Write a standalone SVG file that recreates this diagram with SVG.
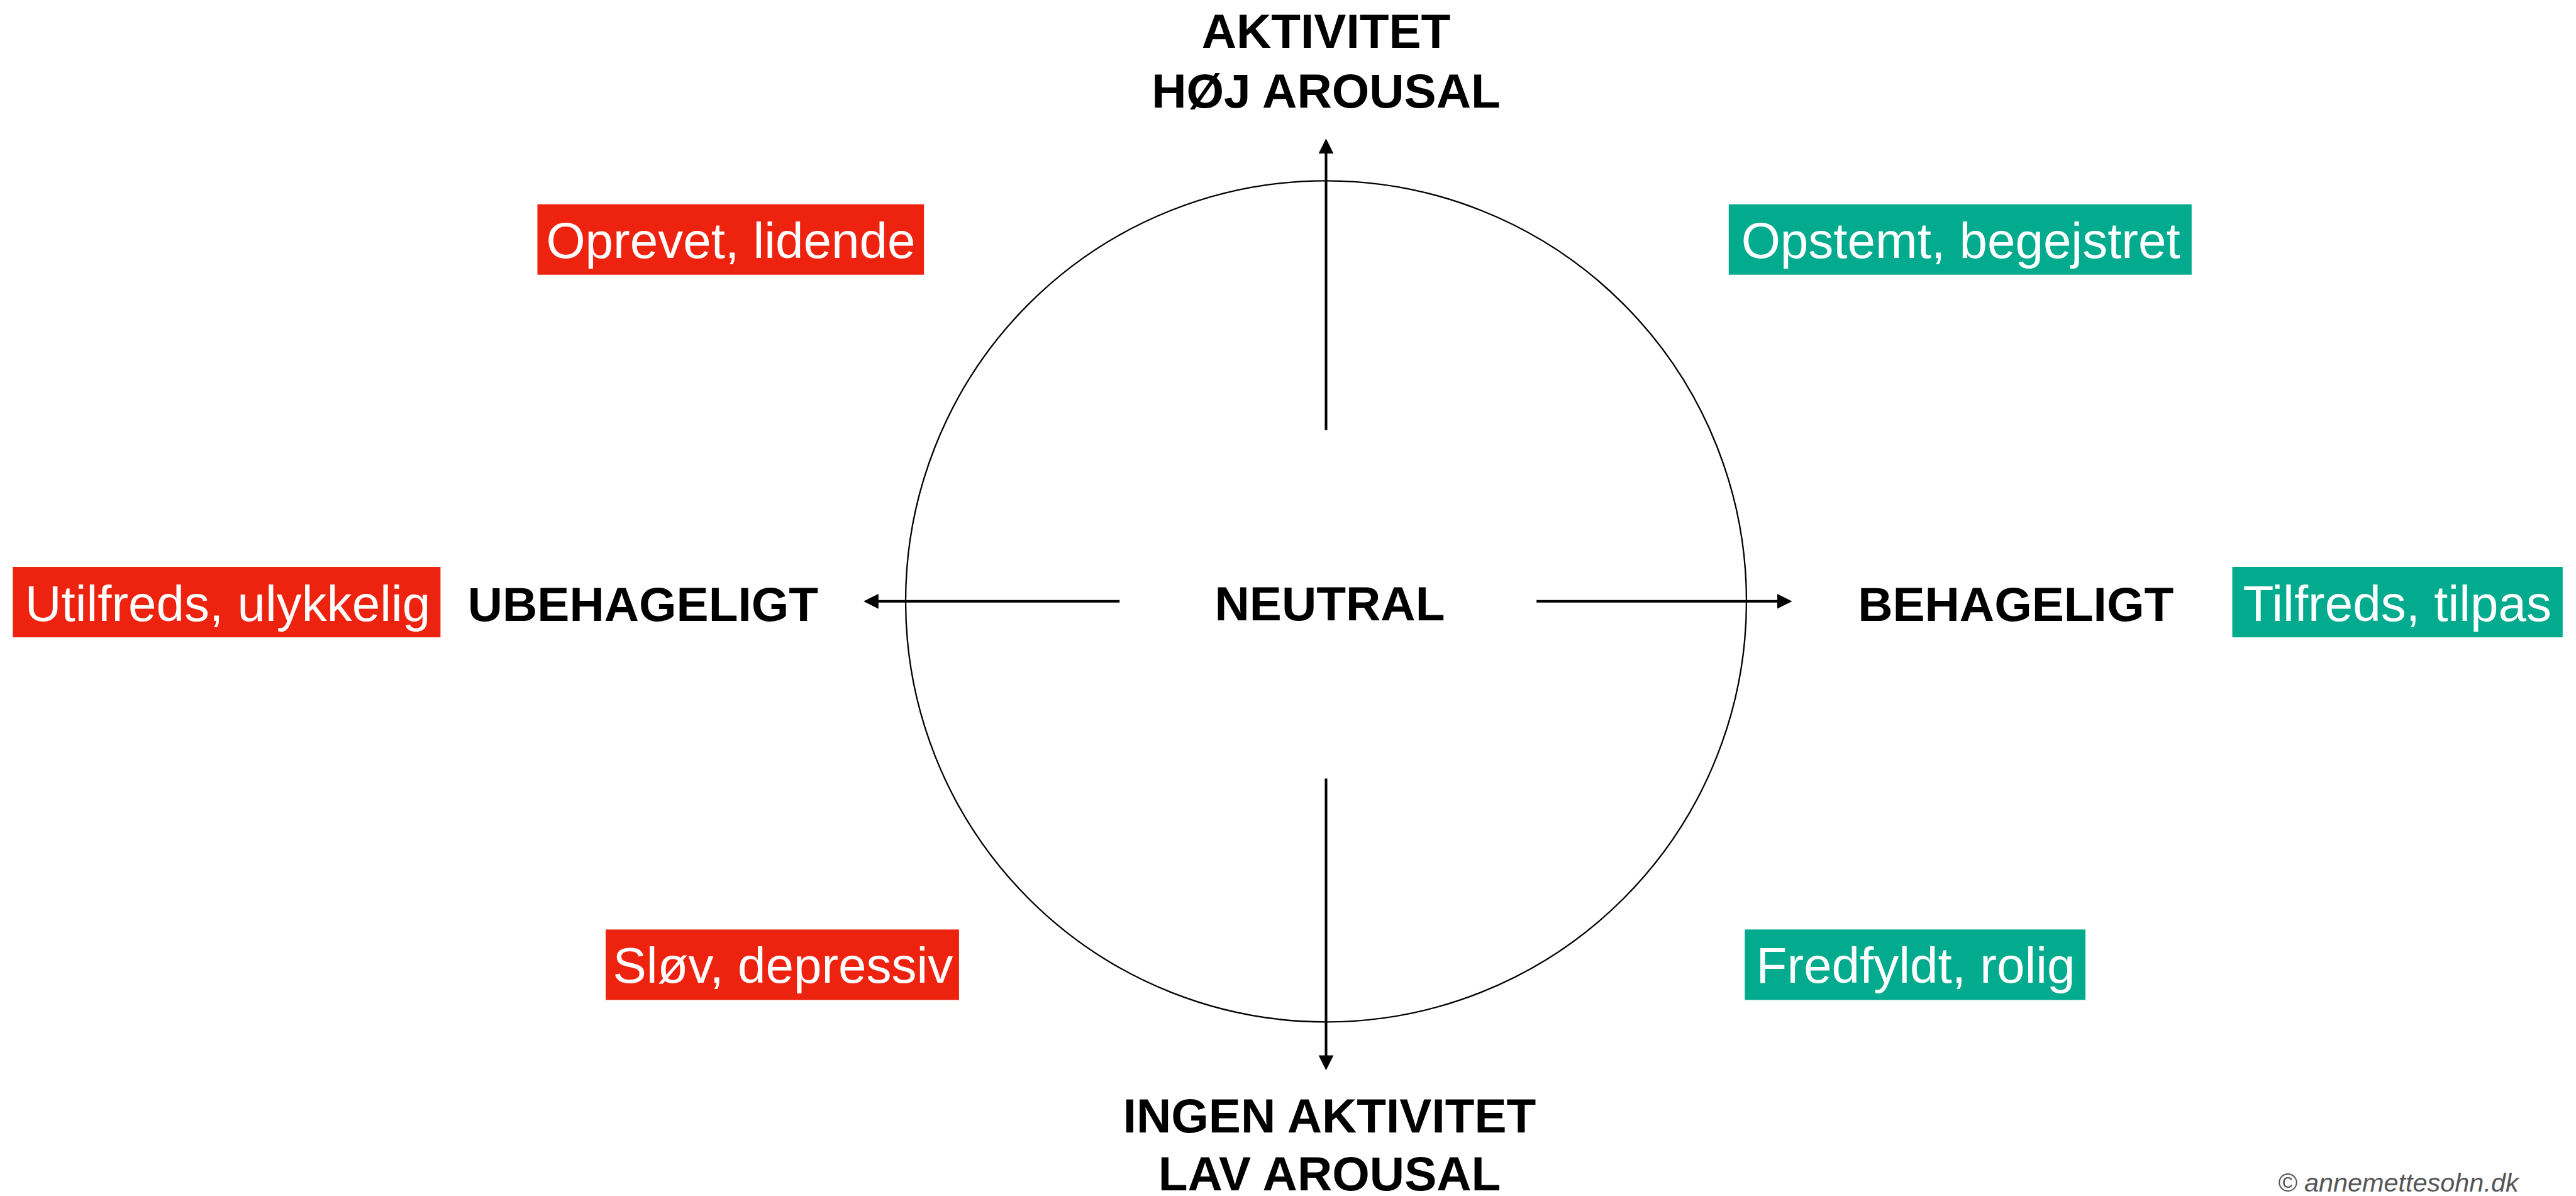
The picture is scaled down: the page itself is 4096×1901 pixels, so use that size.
<svg xmlns="http://www.w3.org/2000/svg" width="4096" height="1901" viewBox="0 0 4096 1901">
  <style>
    .axis { font-family: "Liberation Sans", Arial, sans-serif; font-weight: bold; font-size: 76.6px; fill: #000; text-anchor: middle; }
    .tag { font-family: "Liberation Sans", Arial, sans-serif; font-size: 80px; fill: #fff; text-anchor: middle; }
    .red { fill: #ED220F; }
    .green { fill: #02AB8D; }
    .conn { stroke: #000; stroke-width: 4.1; fill: none; marker-end: url(#head); }
    .copy { font-family: "Liberation Sans", Arial, sans-serif; font-style: italic; font-size: 41.4px; fill: #555; text-anchor: end; }
  </style>
  <defs>
    <marker id="head" markerUnits="userSpaceOnUse" markerWidth="24" markerHeight="24" refX="0.5" refY="11.4" orient="auto" viewBox="0 0 23 22.8">
      <path d="M0,0 L22.8,11.4 L0,22.8 Z" fill="#000"/>
    </marker>
  </defs>
  <rect width="4096" height="1901" fill="#fff"/>

  <g id="circle">
    <circle cx="2108.5" cy="955.8" r="668.5" fill="none" stroke="#000" stroke-width="2.3"/>
  </g>

  <g id="connectors">
    <line class="conn" x1="2108.5" y1="683.5" x2="2108.5" y2="243.5"/>
    <line class="conn" x1="2108.5" y1="1237.6" x2="2108.5" y2="1678"/>
    <line class="conn" x1="1780.2" y1="955.8" x2="1396.3" y2="955.8"/>
    <line class="conn" x1="2443.2" y1="955.8" x2="2826.3" y2="955.8"/>
  </g>

  <g id="top">
    <text class="axis" x="2108.5" y="75.7">AKTIVITET</text>
    <text class="axis" x="2108.5" y="170.5">HØJ AROUSAL</text>
  </g>
  <g id="bottom">
    <text class="axis" x="2114" y="1800">INGEN AKTIVITET</text>
    <text class="axis" x="2114" y="1892">LAV AROUSAL</text>
  </g>
  <g id="neutral">
    <text class="axis" x="2114.5" y="985.9">NEUTRAL</text>
  </g>
  <g id="ubehageligt">
    <text class="axis" x="1022.4" y="986.8">UBEHAGELIGT</text>
  </g>
  <g id="behageligt">
    <text class="axis" x="3205.2" y="986.8">BEHAGELIGT</text>
  </g>

  <g id="oprevet">
    <rect class="red" x="854.5" y="324.7" width="614.7" height="112"/>
    <text class="tag" x="1161.9" y="410.4">Oprevet, lidende</text>
  </g>
  <g id="opstemt">
    <rect class="green" x="2748.8" y="324.7" width="736" height="112"/>
    <text class="tag" x="3117.7" y="410.4">Opstemt, begejstret</text>
  </g>
  <g id="utilfreds">
    <rect class="red" x="20.4" y="901" width="680" height="112"/>
    <text class="tag" x="362" y="986.8">Utilfreds, ulykkelig</text>
  </g>
  <g id="tilfreds">
    <rect class="green" x="3549.5" y="901" width="525.3" height="112"/>
    <text class="tag" x="3811.7" y="986.8">Tilfreds, tilpas</text>
  </g>
  <g id="slov">
    <rect class="red" x="963.1" y="1477.4" width="561.8" height="112"/>
    <text class="tag" x="1244.9" y="1562.3">Sløv, depressiv</text>
  </g>
  <g id="fredfyldt">
    <rect class="green" x="2774.3" y="1477.4" width="541.7" height="112"/>
    <text class="tag" x="3046" y="1562.3">Fredfyldt, rolig</text>
  </g>

  <g id="copyright">
    <text class="copy" x="4004.6" y="1894">© annemettesohn.dk</text>
  </g>
</svg>
